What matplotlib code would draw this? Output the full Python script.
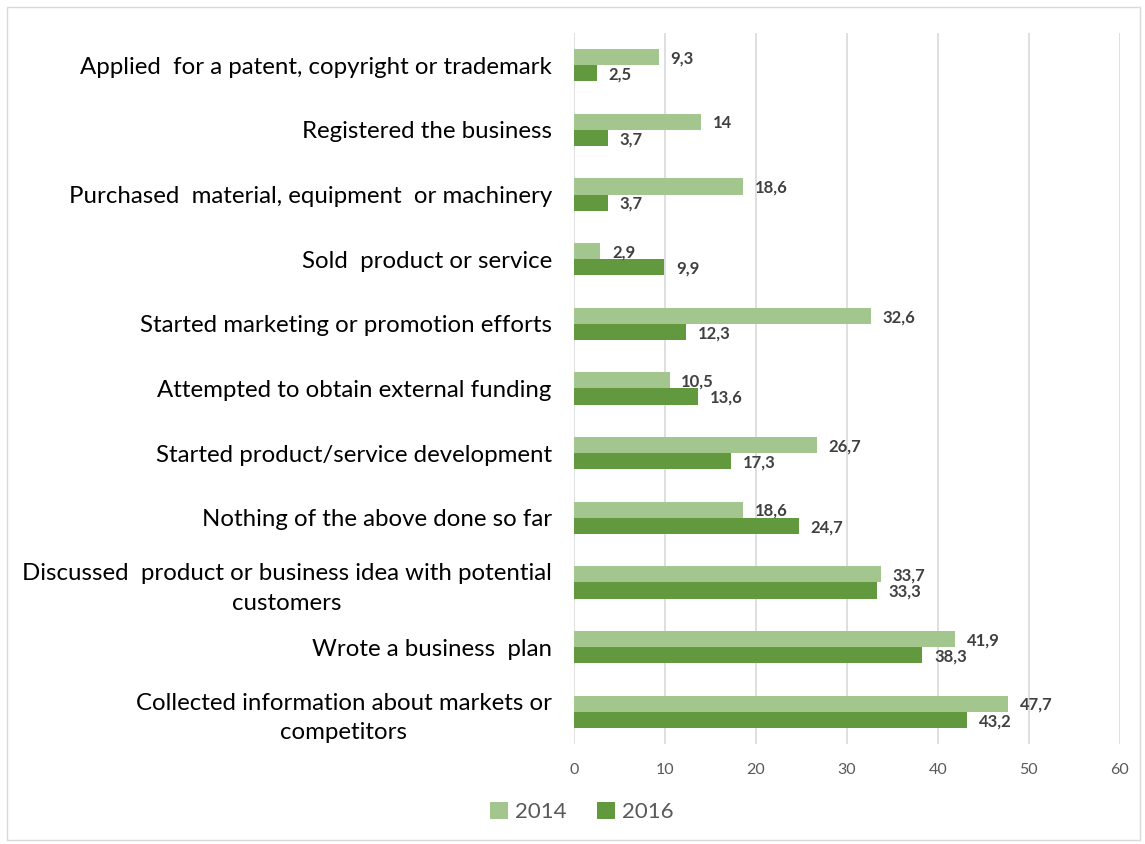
import matplotlib.pyplot as plt
import matplotlib.patches as mpatches
import numpy as np

plt.rcParams['font.family'] = ['Lato', 'DejaVu Sans']

categories = [
    'Applied  for a patent, copyright or trademark',
    'Registered the business',
    'Purchased  material, equipment  or machinery',
    'Sold  product or service',
    'Started marketing or promotion efforts',
    'Attempted to obtain external funding',
    'Started product/service development',
    'Nothing of the above done so far',
    'Discussed  product or business idea with potential\ncustomers',
    'Wrote a business  plan',
    'Collected information about markets or\ncompetitors',
]
vals_2014 = [9.3, 14, 18.6, 2.9, 32.6, 10.5, 26.7, 18.6, 33.7, 41.9, 47.7]
vals_2016 = [2.5, 3.7, 3.7, 9.9, 12.3, 13.6, 17.3, 24.7, 33.3, 38.3, 43.2]
labels_2014 = ['9,3', '14', '18,6', '2,9', '32,6', '10,5', '26,7', '18,6', '33,7', '41,9', '47,7']
labels_2016 = ['2,5', '3,7', '3,7', '9,9', '12,3', '13,6', '17,3', '24,7', '33,3', '38,3', '43,2']
series = ['2014', '2016']
x_ticks = [0, 10, 20, 30, 40, 50, 60]

c14 = '#A3C68F'
c16 = '#62993E'

fig = plt.figure(figsize=(11.45, 8.44), dpi=100)
ax = fig.add_axes([0.5013, 0.1185, 0.4768, 0.8425])

# frame around the whole chart
fig.patches.append(mpatches.Rectangle((7 / 1145, 4 / 844), 1133 / 1145, 833 / 844,
                                      transform=fig.transFigure, fill=False,
                                      edgecolor='#D9D9D9', linewidth=1))

y = np.arange(len(categories))
h = 0.25
b14 = ax.barh(y - h / 2, vals_2014, height=h, color=c14, label=series[0], zorder=2)
b16 = ax.barh(y + h / 2, vals_2016, height=h, color=c16, label=series[1], zorder=2)

for bars, labs in ((b14, labels_2014), (b16, labels_2016)):
    for bar, lab in zip(bars, labs):
        ax.text(bar.get_width() + 1.3, bar.get_y() + bar.get_height() / 2 + 0.02, lab,
                ha='left', va='center', fontsize=12, fontweight='bold', color='#404040')

ax.set_ylim(len(categories) - 0.5, -0.5)
ax.set_xlim(0, 60)
ax.set_yticks(y)
ax.set_yticklabels(categories, fontsize=17.3, color='black', linespacing=1.5,
                   multialignment='center')
ax.set_xticks(x_ticks)
ax.set_xticklabels([str(t) for t in x_ticks], fontsize=11.5, color='#595959')
ax.tick_params(axis='y', length=0, pad=16)
ax.tick_params(axis='x', length=0, pad=14)
ax.grid(axis='x', color='#D9D9D9', linewidth=1.2, zorder=0)
ax.set_axisbelow(True)
for s in ax.spines.values():
    s.set_visible(False)

fig.legend(handles=[b14, b16], labels=series, loc='center', bbox_to_anchor=(0.508, 0.038),
           ncol=2, frameon=False, fontsize=16, labelcolor='#595959',
           handlelength=0.8, handleheight=0.8, handletextpad=0.3, columnspacing=1.4)

fig.savefig('out.png', dpi=100)
